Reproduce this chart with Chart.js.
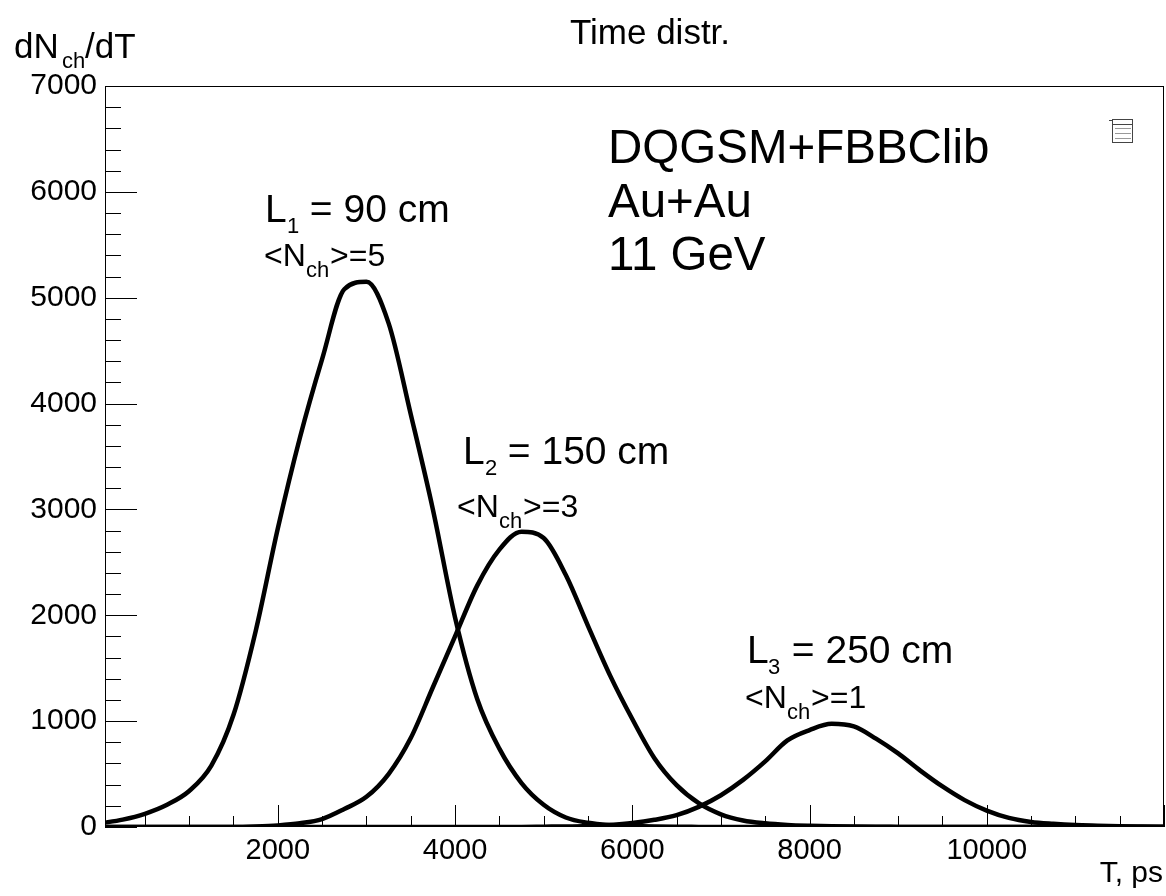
<!DOCTYPE html>
<html>
<head>
<meta charset="utf-8">
<title>Time distr.</title>
<script src="https://cdn.jsdelivr.net/npm/chart.js@4.4.0/dist/chart.umd.min.js"></script>
<style>
  html, body { margin: 0; padding: 0; background: #fff; }
  #wrap { width: 1166px; height: 896px; }
</style>
</head>
<body>
<div id="wrap"><canvas id="timeChart" width="1166" height="896"></canvas></div>
<script>
// Time distribution of charged particles (DQGSM+FBBClib, Au+Au 11 GeV)

// Time bins, ps
const timeBins = [
    0, 250, 500, 750, 1000, 1250, 1500, 1750, 2000, 2250,
    2500, 2750, 3000, 3250, 3500, 3750, 4000, 4250, 4500, 4750,
    5000, 5250, 5500, 5750, 6000, 6250, 6500, 6750, 7000, 7250,
    7500, 7750, 8000, 8250, 8500, 8750, 9000, 9250, 9500, 9750,
    10000, 10250, 10500, 10750, 11000, 11250, 11500, 11750, 12000
];

// dNch/dT for L1 = 90 cm
const countsL1 = [
    35, 70, 125, 210, 340, 580, 1060, 1850, 2820, 3680,
    4420, 5080, 5150, 4760, 3900, 3000, 1980, 1210, 740, 415,
    210, 90, 40, 18, 9, 4, 2, 1, 0, 0,
    0, 0, 0, 0, 0, 0, 0, 0, 0, 0,
    0, 0, 0, 0, 0, 0, 0, 0, 0
];

// dNch/dT for L2 = 150 cm
const countsL2 = [
    0, 0, 0, 0, 0, 0, 0, 5, 15, 35,
    75, 170, 285, 500, 840, 1320, 1800, 2280, 2620, 2790,
    2730, 2380, 1900, 1430, 1020, 650, 395, 225, 120, 62,
    35, 20, 12, 7, 4, 2, 1, 0, 0, 0,
    0, 0, 0, 0, 0, 0, 0, 0, 0
];

// dNch/dT for L3 = 250 cm
const countsL3 = [
    0, 0, 0, 0, 0, 0, 0, 0, 0, 0,
    0, 0, 0, 0, 0, 0, 0, 0, 0, 1,
    3, 5, 10, 20, 38, 68, 112, 190, 300, 445,
    620, 818, 916, 975, 950, 835, 695, 533, 383, 254,
    155, 86, 48, 30, 18, 12, 7, 4, 2
];

// Axis ticks
const xTickValues = [2000, 4000, 6000, 8000, 10000];
const yTickValues = [0, 1000, 2000, 3000, 4000, 5000, 6000, 7000];

const FONT = "'Liberation Sans', Arial, Helvetica, sans-serif";

function makeDataset(label, counts) {
    return {
        label: label,
        data: timeBins.map((t, i) => ({ x: t, y: counts[i] })),
        borderColor: '#000',
        backgroundColor: 'transparent',
        borderWidth: 4.5,
        pointRadius: 0,
        cubicInterpolationMode: 'monotone',
        fill: false
    };
}

// text helper
function drawText(ctx, str, x, y, size, align) {
    ctx.font = size + 'px ' + FONT;
    ctx.textAlign = align || 'left';
    ctx.textBaseline = 'alphabetic';
    ctx.fillText(str, x, y);
}

// ROOT-like frame, inner ticks and labels
const rootFrame = {
    id: 'rootFrame',
    afterDraw(chart) {
        const ctx = chart.ctx;
        const area = chart.chartArea;
        const xs = chart.scales.x;
        const ys = chart.scales.y;

        ctx.save();
        ctx.strokeStyle = '#000';
        ctx.lineWidth = 1;

        // frame
        ctx.strokeRect(area.left + 0.5, area.top + 0.5, area.right - area.left - 1, area.bottom - area.top - 1);

        // y ticks: major every 1000, minor every 200
        ctx.beginPath();
        for (let v = 0; v <= 7000; v += 200) {
            const py = Math.round(ys.getPixelForValue(v)) + 0.5;
            const len = v % 1000 === 0 ? 32 : 16;
            ctx.moveTo(area.left, py);
            ctx.lineTo(area.left + len, py);
        }
        // x ticks: major every 2000, minor every 500
        for (let v = 500; v <= 12000; v += 500) {
            if (v < xs.min || v > xs.max) continue;
            const px = Math.round(xs.getPixelForValue(v)) + 0.5;
            const len = v % 2000 === 0 ? 22 : 11;
            ctx.moveTo(px, area.bottom);
            ctx.lineTo(px, area.bottom - len);
        }
        ctx.stroke();

        ctx.fillStyle = '#000';

        // title
        drawText(ctx, 'Time distr.', 650, 44, 35, 'center');

        // y axis title dN_ch/dT
        drawText(ctx, 'dN', 14, 58, 35);
        drawText(ctx, 'ch', 62, 68, 22);
        drawText(ctx, '/dT', 85, 58, 35);

        // x axis title
        drawText(ctx, 'T, ps', 1163, 882, 30, 'right');

        // model / system
        drawText(ctx, 'DQGSM+FBBClib', 608, 163, 47.5);
        drawText(ctx, 'Au+Au', 608, 217, 47.5);
        drawText(ctx, '11 GeV', 608, 270, 47.5);

        // distance labels
        drawText(ctx, 'L', 265, 222, 39);
        drawText(ctx, '1', 287, 233, 22);
        drawText(ctx, ' = 90 cm', 299, 222, 39);
        drawText(ctx, '<N', 264, 266, 32);
        drawText(ctx, 'ch', 306, 277, 22);
        drawText(ctx, '>=5', 330, 266, 32);

        drawText(ctx, 'L', 463, 464, 39);
        drawText(ctx, '2', 485, 475, 22);
        drawText(ctx, ' = 150 cm', 497, 464, 39);
        drawText(ctx, '<N', 457, 517, 32);
        drawText(ctx, 'ch', 499, 528, 22);
        drawText(ctx, '>=3', 523, 517, 32);

        drawText(ctx, 'L', 747, 663, 39);
        drawText(ctx, '3', 768, 674, 22);
        drawText(ctx, ' = 250 cm', 781, 663, 39);
        drawText(ctx, '<N', 745, 708, 32);
        drawText(ctx, 'ch', 787, 719, 22);
        drawText(ctx, '>=1', 811, 708, 32);

        // small collapsed stats box icon
        ctx.strokeStyle = '#444';
        ctx.strokeRect(1112.5, 119.5, 20, 23);
        ctx.beginPath();
        ctx.moveTo(1112, 124.5); ctx.lineTo(1133, 124.5);
        ctx.moveTo(1109, 120.5); ctx.lineTo(1113, 120.5);
        ctx.stroke();
        ctx.strokeStyle = '#999';
        ctx.beginPath();
        [128.5, 133.5, 138.5].forEach(y => { ctx.moveTo(1115, y); ctx.lineTo(1131, y); });
        ctx.stroke();

        ctx.restore();
    }
};

const ctx = document.getElementById('timeChart').getContext('2d');

new Chart(ctx, {
    type: 'line',
    data: {
        datasets: [
            makeDataset('L1 = 90 cm', countsL1),
            makeDataset('L2 = 150 cm', countsL2),
            makeDataset('L3 = 250 cm', countsL3)
        ]
    },
    options: {
        responsive: false,
        animation: false,
        layout: { padding: { top: 86, right: 2, left: 0, bottom: 0 } },
        plugins: {
            legend: { display: false },
            tooltip: { enabled: false },
            title: { display: false }
        },
        scales: {
            x: {
                type: 'linear',
                min: 50,
                max: 12000,
                grid: { display: false, drawTicks: false },
                border: { display: false },
                ticks: {
                    color: '#000',
                    font: { family: FONT, size: 29 },
                    padding: 7,
                    maxRotation: 0,
                    autoSkip: false,
                    callback: v => String(v)
                },
                afterBuildTicks: scale => {
                    scale.ticks = xTickValues.map(v => ({ value: v }));
                },
                afterFit: scale => { scale.height = 69; }
            },
            y: {
                min: 0,
                max: 7000,
                grid: { display: false, drawTicks: false },
                border: { display: false },
                ticks: {
                    color: '#000',
                    font: { family: FONT, size: 30 },
                    padding: 8,
                    autoSkip: false,
                    callback: v => String(v)
                },
                afterBuildTicks: scale => {
                    scale.ticks = yTickValues.map(v => ({ value: v }));
                },
                afterFit: scale => { scale.width = 105; }
            }
        }
    },
    plugins: [rootFrame]
});
</script>
</body>
</html>
